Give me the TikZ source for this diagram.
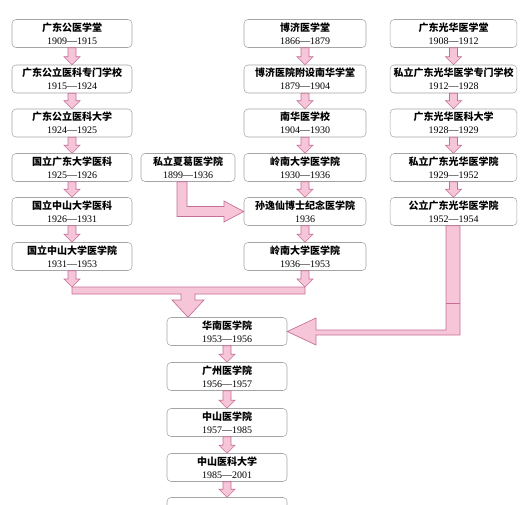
\documentclass[tikz,border=0pt]{standalone}
\usepackage{fontspec}
\setmainfont{Liberation Serif}
\newfontfamily\cjk{Noto Sans CJK SC}
\usepackage{xcolor}
\definecolor{flowpink}{RGB}{246,198,216}
\definecolor{flowedge}{RGB}{196,110,150}
\definecolor{boxedge}{RGB}{165,165,165}
\usetikzlibrary{calc}

\tikzset{
  stage/.style={draw=boxedge, fill=white, rounded corners=3pt, align=center,
    inner sep=1pt, minimum height=21pt, font=\fontsize{7.5}{9.5}\selectfont},
  pinkflow/.style={fill=flowpink, draw=flowedge, line width=0.5pt},
}
\newcommand{\ch}[1]{{\cjk\bfseries #1}}
% small block arrow from one box to the next
\newcommand{\stagearrow}[2]{%
  \draw[pinkflow] ($#1+(-4,0)$) -- ($#2+(-4,-8)$) -- ($#2+(-8,-8)$) -- #2
    -- ($#2+(8,-8)$) -- ($#2+(4,-8)$) -- ($#1+(4,0)$) -- cycle;}

\begin{document}
\begin{tikzpicture}[x=0.75pt, y=-0.75pt]
  \useasboundingbox (0,0) rectangle (525,504);

  % --- Left column ---
  \node[stage, minimum width=90pt] (l1) at (72,33.5) {\ch{广东公医学堂}\\1909—1915};
  \node[stage, minimum width=90pt] (l2) at (72,79) {\ch{广东公立医科专门学校}\\1915—1924};
  \node[stage, minimum width=90pt] (l3) at (72,123) {\ch{广东公立医科大学}\\1924—1925};
  \node[stage, minimum width=90pt] (l4) at (72,167.5) {\ch{国立广东大学医科}\\1925—1926};
  \node[stage, minimum width=90pt] (l5) at (72,211.5) {\ch{国立中山大学医科}\\1926—1931};
  \node[stage, minimum width=90pt] (l6) at (72,256.5) {\ch{国立中山大学医学院}\\1931—1953};
  \stagearrow{(l1.south)}{(l2.north)}
  \stagearrow{(l2.south)}{(l3.north)}
  \stagearrow{(l3.south)}{(l4.north)}
  \stagearrow{(l4.south)}{(l5.north)}
  \stagearrow{(l5.south)}{(l6.north)}

  % --- Xia Ge ---
  \node[stage, minimum width=70.5pt] (xg) at (188,167.5) {\ch{私立夏葛医学院}\\1899—1936};

  % --- Middle column ---
  \node[stage, minimum width=91.5pt] (m1) at (305,33.5) {\ch{博济医学堂}\\1866—1879};
  \node[stage, minimum width=91.5pt] (m2) at (305,79) {\ch{博济医院附设南华学堂}\\1879—1904};
  \node[stage, minimum width=91.5pt] (m3) at (305,123) {\ch{南华医学校}\\1904—1930};
  \node[stage, minimum width=91.5pt] (m4) at (305,167.5) {\ch{岭南大学医学院}\\1930—1936};
  \node[stage, minimum width=91.5pt] (m5) at (305,211.5) {\ch{孙逸仙博士纪念医学院}\\1936};
  \node[stage, minimum width=91.5pt] (m6) at (305,256.5) {\ch{岭南大学医学院}\\1936—1953};
  \stagearrow{(m1.south)}{(m2.north)}
  \stagearrow{(m2.south)}{(m3.north)}
  \stagearrow{(m3.south)}{(m4.north)}
  \stagearrow{(m4.south)}{(m5.north)}
  \stagearrow{(m5.south)}{(m6.north)}

  % --- Right column ---
  \node[stage, minimum width=95pt] (r1) at (453.5,33.5) {\ch{广东光华医学堂}\\1908—1912};
  \node[stage, minimum width=95pt] (r2) at (453.5,79) {\ch{私立广东光华医学专门学校}\\1912—1928};
  \node[stage, minimum width=95pt] (r3) at (453.5,123) {\ch{广东光华医科大学}\\1928—1929};
  \node[stage, minimum width=95pt] (r4) at (453.5,167.5) {\ch{私立广东光华医学院}\\1929—1952};
  \node[stage, minimum width=95pt] (r5) at (453.5,211.5) {\ch{公立广东光华医学院}\\1952—1954};
  \stagearrow{(r1.south)}{(r2.north)}
  \stagearrow{(r2.south)}{(r3.north)}
  \stagearrow{(r3.south)}{(r4.north)}
  \stagearrow{(r4.south)}{(r5.north)}

  % --- Bottom column ---
  \node[stage, minimum width=90pt] (b1) at (227,331.5) {\ch{华南医学院}\\1953—1956};
  \node[stage, minimum width=90pt] (b2) at (227,376.5) {\ch{广州医学院}\\1956—1957};
  \node[stage, minimum width=90pt] (b3) at (227,422.5) {\ch{中山医学院}\\1957—1985};
  \node[stage, minimum width=90pt] (b4) at (227,467.5) {\ch{中山医科大学}\\1985—2001};
  \node[stage, minimum width=90pt] (b5) at (227,511.5) {};
  \stagearrow{(b1.south)}{(b2.north)}
  \stagearrow{(b2.south)}{(b3.north)}
  \stagearrow{(b3.south)}{(b4.north)}
  \stagearrow{(b4.south)}{(b5.north)}

  % Xia Ge joins Sun Yat-sen memorial college
  \draw[pinkflow] ($(xg.south)+(-11,0)$) -- ($(xg.south)+(-1,0)$) -- (187,206.5)
    -- (224,206.5) -- (224,201) -- (m5.west) -- (224,222) -- (224,216.5)
    -- (177,216.5) -- cycle;

  % merge of left and middle columns
  \coordinate (lm) at (72,287);
  \coordinate (mm) at (305,287);
  \draw[pinkflow] (lm) -- (mm) -- (305,294) -- (195,294) -- (195,300) -- (204,300)
    -- ($(b1.north)+(-39,0)$) -- (172,300) -- (181,300) -- (181,294) -- (72,294) -- cycle;
  \stagearrow{(l6.south)}{(lm)}
  \stagearrow{(m6.south)}{(mm)}

  % right column into South China
  \draw[pinkflow] ($(r5.south)+(-7.5,0)$) -- ($(r5.south)+(6.5,0)$) -- (460,335)
    -- (316,335) -- (316,345) -- (b1.east) -- (316,318) -- (316,330) -- (446,330) -- cycle;
  \draw[flowedge, line width=0.5pt] (446,303) -- (460,303);
\end{tikzpicture}
\end{document}
